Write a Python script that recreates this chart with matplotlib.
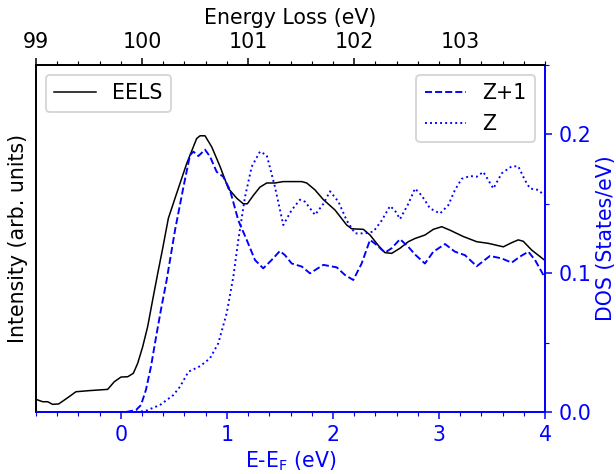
import matplotlib
matplotlib.use("Agg")
import matplotlib.pyplot as plt
from matplotlib.ticker import MultipleLocator

# EELS (arbitrary units, plotted on left axis)
eels_x = [-0.8, -0.737, -0.69, -0.643, -0.586, -0.501, -0.423, -0.297, -0.124, -0.062,
          0.002, 0.065, 0.118, 0.159, 0.206, 0.253, 0.30, 0.348, 0.395, 0.448, 0.511,
          0.621, 0.715, 0.747, 0.794, 0.857, 0.935, 1.014, 1.093, 1.155, 1.193, 1.249,
          1.312, 1.376, 1.454, 1.532, 1.595, 1.706, 1.753, 1.831, 1.910, 2.02, 2.13,
          2.177, 2.287, 2.35, 2.428, 2.491, 2.554, 2.633, 2.711, 2.774, 2.868, 2.947,
          3.026, 3.104, 3.23, 3.356, 3.466, 3.607, 3.686, 3.748, 3.795, 3.874, 3.994]
eels_y = [0.0091, 0.0074, 0.0074, 0.0055, 0.0058, 0.0103, 0.0146, 0.0154, 0.0163, 0.0218,
          0.0252, 0.0254, 0.0279, 0.0351, 0.047, 0.0615, 0.0807, 0.0999, 0.118, 0.1395, 0.154,
          0.179, 0.197, 0.199, 0.199, 0.191, 0.177, 0.161, 0.154, 0.150, 0.150, 0.156,
          0.162, 0.165, 0.165, 0.166, 0.166, 0.166, 0.165, 0.160, 0.153, 0.1455, 0.1347,
          0.132, 0.1316, 0.1275, 0.120, 0.1148, 0.1143, 0.118, 0.1227, 0.125, 0.1275, 0.1316,
          0.1335, 0.131, 0.1264, 0.1227, 0.1215, 0.119, 0.122, 0.124, 0.123, 0.1167, 0.1095]

# Z+1 DOS (States/eV)
zp1_x = [0.049, 0.143, 0.19, 0.237, 0.284, 0.332, 0.379, 0.432, 0.511, 0.59, 0.652, 0.684,
         0.731, 0.794, 0.841, 0.904, 0.966, 1.029, 1.108, 1.187, 1.265, 1.343, 1.422, 1.50,
         1.548, 1.611, 1.706, 1.784, 1.847, 1.91, 2.036, 2.114, 2.192, 2.271, 2.35, 2.413,
         2.491, 2.554, 2.633, 2.711, 2.774, 2.868, 2.947, 3.057, 3.151, 3.245, 3.356, 3.48,
         3.59, 3.686, 3.765, 3.843, 3.906, 3.985]
zp1_y = [0.0, 0.0014, 0.005, 0.016, 0.0326, 0.054, 0.074, 0.095, 0.131, 0.162, 0.185, 0.1876,
         0.1844, 0.189, 0.184, 0.173, 0.1695, 0.160, 0.138, 0.124, 0.1095, 0.1035, 0.1095, 0.116,
         0.113, 0.107, 0.1048, 0.0999, 0.103, 0.106, 0.1042, 0.0987, 0.0951, 0.107, 0.124, 0.1203,
         0.1148, 0.118, 0.1245, 0.119, 0.1135, 0.107, 0.1155, 0.121, 0.1155, 0.113, 0.105, 0.1124,
         0.1107, 0.1076, 0.112, 0.1155, 0.1095, 0.0987]

# Z DOS (States/eV)
z_x = [0.0, 0.143, 0.237, 0.316, 0.369, 0.495, 0.558, 0.637, 0.747, 0.841, 0.919, 0.998,
       1.061, 1.108, 1.171, 1.234, 1.312, 1.376, 1.454, 1.532, 1.548, 1.611, 1.69, 1.737,
       1.831, 1.91, 1.973, 2.052, 2.13, 2.209, 2.303, 2.382, 2.46, 2.539, 2.586, 2.633,
       2.711, 2.774, 2.837, 2.916, 3.01, 3.088, 3.151, 3.214, 3.293, 3.356, 3.418, 3.513,
       3.592, 3.686, 3.748, 3.811, 3.859, 3.937, 3.994]
z_y = [0.0, 0.0, 0.0009, 0.0034, 0.005, 0.0122, 0.0182, 0.029, 0.033, 0.0387, 0.0495, 0.0711,
       0.0975, 0.124, 0.155, 0.1767, 0.1876, 0.185, 0.162, 0.1347, 0.137, 0.1455, 0.153, 0.1515,
       0.142, 0.150, 0.159, 0.1515, 0.138, 0.1287, 0.1287, 0.130, 0.138, 0.1484, 0.145, 0.139,
       0.150, 0.161, 0.156, 0.1467, 0.143, 0.149, 0.160, 0.168, 0.170, 0.1695, 0.173, 0.161,
       0.172, 0.177, 0.177, 0.167, 0.161, 0.160, 0.156]

xlim = (-0.8, 4.0)
loss_offset = 99.8
top_ticks = [99, 100, 101, 102, 103]
bottom_ticks = [0, 1, 2, 3, 4]
dos_ticks = [0.0, 0.1, 0.2]

plt.rcParams['font.size'] = 10.8
blue = '#0000ff'

DPI = 137
fig = plt.figure(figsize=(616 / DPI, 474 / DPI), dpi=DPI)
ax = fig.add_axes([36/616, 62/474, 509/616, 347/474])
axr = ax.twinx()
axt = ax.twiny()

ax.plot(eels_x, eels_y, color='black', lw=0.8, label='EELS')
ax.set_xlim(*xlim)
ax.set_ylim(0, 0.25)
ax.set_yticks([])
ax.set_ylabel('Intensity (arb. units)')
ax.set_xticks(bottom_ticks)
ax.xaxis.set_minor_locator(MultipleLocator(0.2))
ax.tick_params(axis='x', which='both', colors=blue)
ax.set_xlabel(r'E-E$_\mathrm{F}$ (eV)', color=blue, labelpad=2)
ax.legend(loc='upper left')

axr.plot(zp1_x, zp1_y, color=blue, ls='--', lw=1.0, label='Z+1')
axr.plot(z_x, z_y, color=blue, ls=':', lw=1.0, label='Z')
axr.set_ylim(0, 0.25)
axr.set_yticks(dos_ticks)
axr.yaxis.set_minor_locator(MultipleLocator(0.05))
axr.tick_params(axis='y', which='both', colors=blue)
axr.set_ylabel('DOS (States/eV)', color=blue, labelpad=2.5)
axr.legend(loc='upper right')

axt.set_xlim(xlim[0] + loss_offset, xlim[1] + loss_offset)
axt.set_xticks(top_ticks)
axt.xaxis.set_minor_locator(MultipleLocator(0.2))
axt.set_xlabel('Energy Loss (eV)')

for a in (ax, axr, axt):
    a.spines['bottom'].set_color(blue)
    a.spines['right'].set_color(blue)
    a.spines['left'].set_color('black')
    a.spines['top'].set_color('black')

fig.savefig('out.png', dpi=DPI)
